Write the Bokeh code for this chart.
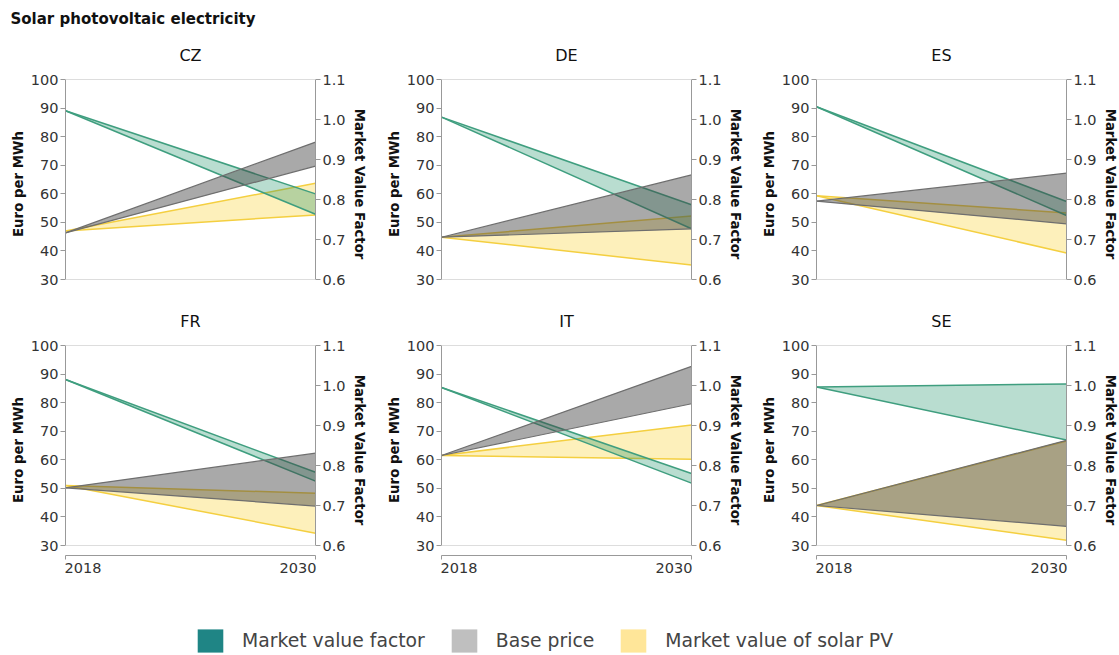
from bokeh.plotting import figure
from bokeh.layouts import column, row
from bokeh.models import (Range1d, LinearAxis, FixedTicker, NumeralTickFormatter, Span,
                          Label, Legend, LegendItem, CustomJSTickFormatter)
from bokeh.embed import file_html
from bokeh.resources import INLINE

# ---------------- data ----------------
countries = ["CZ", "DE", "ES", "FR", "IT", "SE"]
years = [2018, 2030]
mvf_2018 = [1.022, 1.006, 1.032, 1.015, 0.995, 0.996]
mvf_2030_low = [0.763, 0.727, 0.760, 0.761, 0.756, 0.864]
mvf_2030_high = [0.814, 0.787, 0.795, 0.783, 0.780, 1.004]
base_2018 = [46.3, 44.8, 57.4, 50.2, 61.5, 44.0]
base_2030_low = [69.7, 47.7, 49.5, 43.8, 79.6, 36.7]
base_2030_high = [78.1, 66.6, 67.2, 62.3, 92.7, 66.8]
solar_2018 = [47.0, 44.8, 59.3, 51.0, 61.5, 44.0]
solar_2030_low = [52.6, 35.1, 39.3, 34.3, 60.2, 31.8]
solar_2030_high = [63.7, 52.2, 53.3, 48.3, 72.2, 66.6]
price_ticks = [30, 40, 50, 60, 70, 80, 90, 100]
factor_ticks = [0.6, 0.7, 0.8, 0.9, 1.0, 1.1]
year_labels = ["2018", "2030"]
legend_labels = ["Market value factor", "Base price", "Market value of solar PV"]
main_title = "Solar photovoltaic electricity"
left_label = "Euro per MWh"
right_label = "Market Value Factor"

# ---------------- style ----------------
FONT = "DejaVu Sans"
FRAME_W, FRAME_H = 250, 211
PRICE_MIN, PRICE_MAX = 30, 100
MVF_MIN, MVF_MAX = 0.6, 1.1
px_price = 200.0 / (PRICE_MAX - PRICE_MIN)
px_mvf = 200.0 / (MVF_MAX - MVF_MIN)
LEFT_B = 65
RIGHT_BORDERS = [61, 60, 52]
TOTAL_W = LEFT_B * 3 + FRAME_W * 3 + sum(RIGHT_BORDERS)
TITLE_H = 28
TOP_B = 50
LEGEND_H = 68

GREEN_FILL, GREEN_ALPHA, GREEN_LINE = "#168e62", 0.30, "#3f9e7f"
GRAY_FILL, GRAY_ALPHA, GRAY_LINE = "#444444", 0.46, "#6e6e6e"
YEL_FILL, YEL_ALPHA, YEL_LINE = "#f9d43d", 0.35, "#f4cf40"
legend_colors = ["#1f8585", "#bfbfbf", "#ffe699"]
AXIS_COLOR = "#999999"


def style_axis(ax, label_standoff):
    ax.axis_line_color = AXIS_COLOR
    ax.major_tick_line_color = AXIS_COLOR
    ax.major_tick_out = 5
    ax.major_tick_in = 0
    ax.minor_tick_line_color = None
    ax.major_label_text_font = FONT
    ax.major_label_text_font_size = "14.5px"
    ax.major_label_text_color = "#333333"
    ax.major_label_standoff = 2
    ax.axis_label_text_font = FONT
    ax.axis_label_text_font_size = "13.3px"
    ax.axis_label_text_font_style = "bold"
    ax.axis_label_text_color = "#111111"
    ax.axis_label_standoff = label_standoff


def band(p, lo, mid, hi, fill, alpha, line, lw, yname="default"):
    y_lo = [mid, lo]
    y_hi = [mid, hi]
    p.varea(x=years, y1=y_lo, y2=y_hi, fill_color=fill, fill_alpha=alpha, y_range_name=yname)
    p.line(x=years, y=y_lo, line_color=line, line_width=lw, y_range_name=yname)
    p.line(x=years, y=y_hi, line_color=line, line_width=lw, y_range_name=yname)


def make_panel(i, col, bottom):
    p = figure(frame_width=FRAME_W, frame_height=FRAME_H,
               x_range=Range1d(years[0], years[1]),
               y_range=Range1d(PRICE_MIN - 10 / px_price, PRICE_MAX + 1 / px_price),
               x_axis_type=None, y_axis_type=None,
               output_backend="svg", toolbar_location=None,
               min_border_left=LEFT_B, min_border_right=RIGHT_BORDERS[col],
               min_border_top=TOP_B, min_border_bottom=30 if bottom else 5,
               outline_line_color=None)
    p.extra_y_ranges = {"mvf": Range1d(MVF_MIN - 10 / px_mvf, MVF_MAX + 1 / px_mvf)}

    p.title.text = countries[i]
    p.title.align = "center"
    p.title.text_font = FONT
    p.title.text_font_size = "16px"
    p.title.text_font_style = "normal"
    p.title.text_color = "#111111"
    p.title.standoff = 28

    ya = LinearAxis(ticker=FixedTicker(ticks=price_ticks), bounds=(PRICE_MIN, PRICE_MAX),
                    axis_label=left_label)
    style_axis(ya, 2)
    p.add_layout(ya, "left")
    yb = LinearAxis(y_range_name="mvf", ticker=FixedTicker(ticks=factor_ticks),
                    formatter=NumeralTickFormatter(format="0.0"),
                    bounds=(MVF_MIN, MVF_MAX), axis_label=right_label)
    style_axis(yb, 3)
    p.add_layout(yb, "right")

    if bottom:
        shift = 17.5 * (years[1] - years[0]) / FRAME_W
        xa = LinearAxis(ticker=FixedTicker(ticks=[years[0] + shift, years[1] - shift],
                                           minor_ticks=years),
                        formatter=CustomJSTickFormatter(
                            args=dict(labels=year_labels, mid=(years[0] + years[1]) / 2),
                            code="return tick < mid ? labels[0] : labels[1];"))
        style_axis(xa, 2)
        xa.major_tick_line_color = None
        xa.major_tick_out = 4
        xa.minor_tick_line_color = AXIS_COLOR
        xa.minor_tick_out = 4
        xa.minor_tick_in = 0
        xa.major_label_standoff = 3
        p.add_layout(xa, "below")

    for loc in (PRICE_MIN, PRICE_MAX):
        p.add_layout(Span(location=loc, dimension="width", line_color="#dddddd", line_width=1))

    band(p, solar_2030_low[i], solar_2018[i], solar_2030_high[i], YEL_FILL, YEL_ALPHA, YEL_LINE, 1.5)
    band(p, mvf_2030_low[i], mvf_2018[i], mvf_2030_high[i], GREEN_FILL, GREEN_ALPHA, GREEN_LINE, 1.5, "mvf")
    band(p, base_2030_low[i], base_2018[i], base_2030_high[i], GRAY_FILL, GRAY_ALPHA, GRAY_LINE, 1.2)
    return p


# title figure
tf = figure(width=TOTAL_W, height=TITLE_H, x_range=Range1d(0, TOTAL_W), y_range=Range1d(0, TITLE_H),
            x_axis_type=None, y_axis_type=None, output_backend="svg", toolbar_location=None,
            min_border=0, outline_line_color=None, title_location=None)
tf.add_layout(Label(x=10, y=TITLE_H - 18, text=main_title,
                    text_font=FONT, text_font_size="15px", text_font_style="bold",
                    text_color="#111111", text_baseline="alphabetic"))

panels = [make_panel(i, i % 3, i >= 3) for i in range(6)]

# legend figure (legend swatches come from renderers that lie outside the visible range)
lf = figure(width=TOTAL_W, height=LEGEND_H, x_range=Range1d(0, 1), y_range=Range1d(0, 1),
            x_axis_type=None, y_axis_type=None, output_backend="svg", toolbar_location=None,
            min_border=0, outline_line_color=None, title_location=None)
items = []
for lab, colr in zip(legend_labels, legend_colors):
    r = lf.quad(left=[-3], right=[-2], bottom=[-3], top=[-2], fill_color=colr, line_color=None)
    items.append(LegendItem(label=lab, renderers=[r]))
leg = Legend(items=items, orientation="horizontal", location=(194, -1.5),
             glyph_width=32, glyph_height=29, label_standoff=16, spacing=23,
             padding=0, margin=0, border_line_color=None, background_fill_alpha=0,
             label_text_font=FONT, label_text_font_size="18.8px", label_text_color="#444444")
lf.add_layout(leg, "center")

layout = column(tf, row(*panels[:3]), row(*panels[3:]), lf)
open("out.html", "w").write(file_html(layout, INLINE))
